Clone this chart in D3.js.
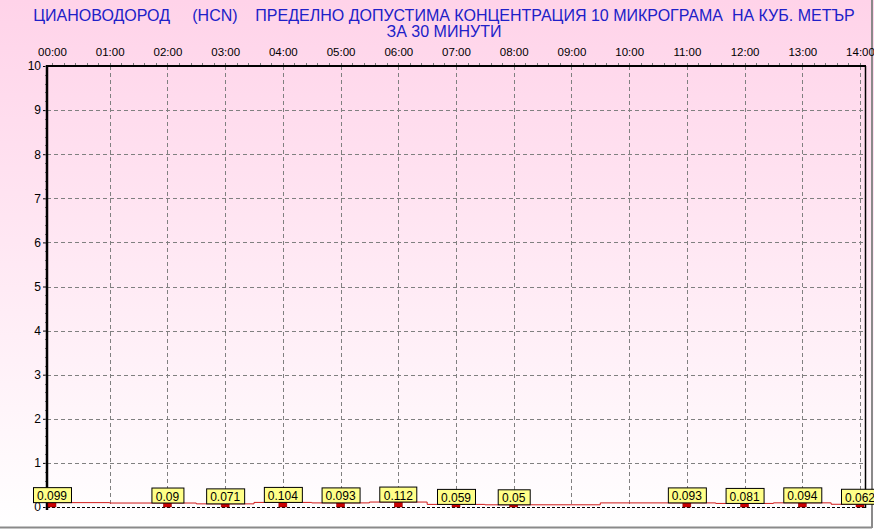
<!DOCTYPE html>
<html>
<head>
<meta charset="utf-8">
<script src="https://cdn.jsdelivr.net/npm/d3@7"></script>
<style>
  body { margin: 0; padding: 0; background: #fff; }
  svg { display: block; }
</style>
</head>
<body>
<svg id="chart" width="874" height="529"></svg>
<script>
// data
var hourLabels = ["00:00","01:00","02:00","03:00","04:00","05:00","06:00","07:00",
                  "08:00","09:00","10:00","11:00","12:00","13:00","14:00"];
var hours  = [0, 1, 2, 3, 4, 5, 6, 7, 8, 9, 10, 11, 12, 13, 14];
var values = [0.099, null, 0.09, 0.071, 0.104, 0.093, 0.112, 0.059, 0.05, null, null, 0.093, 0.081, 0.094, 0.062];
var yTicks = [0, 1, 2, 3, 4, 5, 6, 7, 8, 9, 10];
var titleLine1 = "ЦИАНОВОДОРОД     (HCN)    ПРЕДЕЛНО ДОПУСТИМА КОНЦЕНТРАЦИЯ 10 МИКРОГРАМА  НА КУБ. МЕТЪР";
var titleLine2 = "ЗА 30 МИНУТИ";

var svg = d3.select("#chart");
var W = 874, H = 529;
var pLeft = 47, pTop = 66, pRight = 865, pBottom = 507;
var FONT = "Arial, 'Liberation Sans', sans-serif";

var x = d3.scaleLinear().domain([0, 14]).range([52, 860]);
var y = d3.scaleLinear().domain([0, 10]).range([pBottom, pTop]);

// background gradient
var defs = svg.append("defs");
var grad = defs.append("linearGradient").attr("id", "bg")
    .attr("x1", 0).attr("y1", 0).attr("x2", 0).attr("y2", 1);
grad.append("stop").attr("offset", "0%").attr("stop-color", "#ffd3e9");
grad.append("stop").attr("offset", "100%").attr("stop-color", "#ffffff");
svg.append("rect").attr("width", W).attr("height", H).attr("fill", "url(#bg)");

// outer frame (right/bottom)
svg.append("line").attr("x1", 0).attr("x2", 872).attr("y1", 527.5).attr("y2", 527.5)
    .attr("stroke", "#8a8a8a").attr("stroke-width", 2);
svg.append("line").attr("x1", 872).attr("x2", 872).attr("y1", 0).attr("y2", 528)
    .attr("stroke", "#8a8a8a").attr("stroke-width", 2);

// title
var title = svg.append("g").attr("fill", "#2020c8")
    .style("font-family", FONT)
    .style("font-size", "16px").attr("text-anchor", "middle");
title.append("text").attr("x", 444).attr("y", 21)
    .style("white-space", "pre").text(titleLine1);
title.append("text").attr("x", 444).attr("y", 37).text(titleLine2);

// grid
var grid = svg.append("g").attr("stroke", "#808080").attr("stroke-dasharray", "4,3").attr("stroke-width", 1);
grid.selectAll(".vg").data(hours.slice(1)).enter().append("line")
    .attr("x1", function (d) { return Math.round(x(d)) + 0.5; })
    .attr("x2", function (d) { return Math.round(x(d)) + 0.5; })
    .attr("y1", pTop).attr("y2", pBottom);
grid.selectAll(".hg").data(yTicks.slice(1, 10)).enter().append("line")
    .attr("x1", pLeft).attr("x2", pRight)
    .attr("y1", function (d) { return Math.round(y(d)) + 0.5; })
    .attr("y2", function (d) { return Math.round(y(d)) + 0.5; });

// bottom dashed axis line
svg.append("line").attr("x1", pLeft).attr("x2", pRight).attr("y1", pBottom + 0.5).attr("y2", pBottom + 0.5)
    .attr("stroke", "#000").attr("stroke-dasharray", "3,2");

// top axis
var xAxis = d3.axisTop(x).tickValues(hours).tickSize(0).tickPadding(0)
    .tickFormat(function (d, i) { return hourLabels[i]; });
var gx = svg.append("g").attr("transform", "translate(0,56)").call(xAxis);
gx.select(".domain").remove();
gx.selectAll("text").attr("fill", "#000").style("font-family", FONT)
    .style("font-size", "11.5px");

// minor ticks on top
var minorX = d3.range(0, 14.01, 0.2);
svg.append("g").selectAll("line").data(minorX).enter().append("line")
    .attr("x1", function (d) { return Math.round(x(d)) + 0.5; })
    .attr("x2", function (d) { return Math.round(x(d)) + 0.5; })
    .attr("y1", pTop - 3).attr("y2", pTop)
    .attr("stroke", "#777");
svg.append("line").attr("x1", pLeft).attr("x2", pRight + 1).attr("y1", pTop).attr("y2", pTop)
    .attr("stroke", "#000").attr("stroke-width", 2);

// right border
svg.append("line").attr("x1", pRight + 0.5).attr("x2", pRight + 0.5).attr("y1", pTop).attr("y2", pBottom + 1)
    .attr("stroke", "#000").attr("stroke-width", 1.5);

// left axis
var yAxis = d3.axisLeft(y).tickValues(yTicks).tickSize(4).tickPadding(2);
var gy = svg.append("g").attr("transform", "translate(" + pLeft + ",0)").call(yAxis);
gy.select(".domain").remove();
gy.selectAll("text").attr("fill", "#000").style("font-family", FONT)
    .style("font-size", "12px");
var minorY = d3.range(0, 10.01, 0.2);
svg.append("g").selectAll("line").data(minorY).enter().append("line")
    .attr("x1", pLeft - 2).attr("x2", pLeft)
    .attr("y1", function (d) { return Math.round(y(d)) + 0.5; })
    .attr("y2", function (d) { return Math.round(y(d)) + 0.5; })
    .attr("stroke", "#777");
svg.append("line").attr("x1", pLeft).attr("x2", pLeft).attr("y1", pTop - 1).attr("y2", pBottom + 3)
    .attr("stroke", "#000").attr("stroke-width", 2.5);

// data
var pts = hours.map(function (h, i) { return {h: h, v: values[i]}; })
    .filter(function (d) { return d.v !== null; });

var line = d3.line().x(function (d) { return x(d.h); }).y(function (d) { return y(d.v); })
    .curve(d3.curveStep);
svg.append("path").datum(pts).attr("d", line).attr("fill", "none")
    .attr("stroke", "#d01818").attr("stroke-width", 1);

// bars
svg.append("g").selectAll("rect").data(pts).enter().append("rect")
    .attr("x", function (d) { return x(d.h) - 4; })
    .attr("width", 8)
    .attr("y", function (d) { return y(d.v); })
    .attr("height", function (d) { return y(0) - y(d.v); })
    .attr("fill", "#cc0000").attr("stroke", "#8a0000").attr("stroke-width", 0.5);

// value labels
var lab = svg.append("g").selectAll("g").data(pts).enter().append("g")
    .attr("transform", function (d) { return "translate(" + x(d.h) + "," + (y(d.v) + 0.5) + ")"; });
lab.append("text").attr("text-anchor", "middle").attr("y", -3)
    .style("font-family", FONT).style("font-size", "12px")
    .attr("fill", "#000").text(function (d) { return String(d.v); });
lab.each(function () {
    var g = d3.select(this);
    var bb = g.select("text").node().getBBox();
    g.insert("rect", "text")
        .attr("x", Math.round(-bb.width / 2 - 4) + 0.5)
        .attr("y", -15.5)
        .attr("width", Math.round(bb.width + 8))
        .attr("height", 15)
        .attr("fill", "#ffff88").attr("stroke", "#000");
});
</script>
</body>
</html>
